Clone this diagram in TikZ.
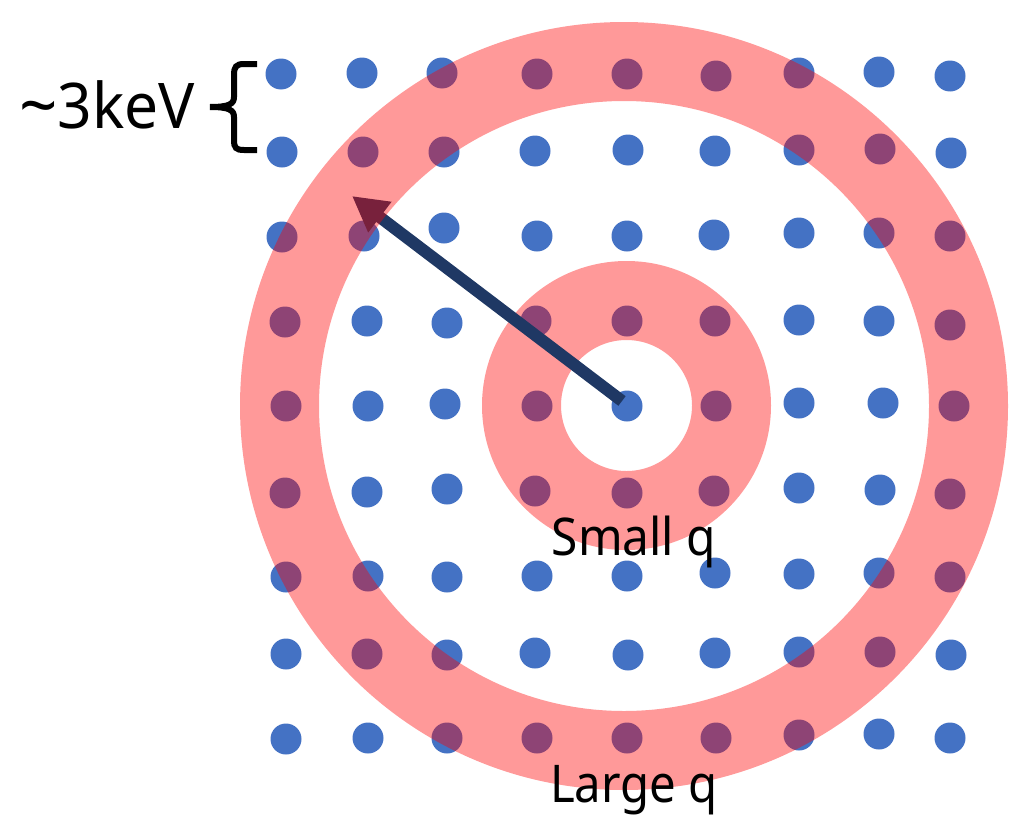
\documentclass[tikz,border=0pt]{standalone}
\usepackage{fontspec}
\setmainfont{Noto Sans}
\usetikzlibrary{arrows.meta}
\definecolor{dotblue}{HTML}{4472C4}
\definecolor{arrownavy}{HTML}{1F3864}
\begin{document}
\begin{tikzpicture}[x=1pt,y=-1pt,
  dot/.style={circle,fill=dotblue,inner sep=0pt,minimum size=31pt},
  ring/.style={fill=red,fill opacity=0.4,even odd rule},
  lbl/.style={inner sep=0pt,anchor=base,text=black}]
\useasboundingbox (0,0) rectangle (1022,819);
% lattice of dots
\foreach \x/\y [count=\c] in {281/74,362/73,442/73,537/74,627/74,716/76,799/73,879/72,950/76}
  \node[dot] (d1\c) at (\x,\y) {};
\foreach \x/\y [count=\c] in {282/152,363/152,444/152,535/151,628/150,715/151,799/150,880/149,951/153}
  \node[dot] (d2\c) at (\x,\y) {};
\foreach \x/\y [count=\c] in {282/237,364/236,444/228,537/236,627/236,714/235,799/233,879/233,950/236}
  \node[dot] (d3\c) at (\x,\y) {};
\foreach \x/\y [count=\c] in {285/322,367/321,447/323,536/321,627/321,715/321,799/320,879/321,950/325}
  \node[dot] (d4\c) at (\x,\y) {};
\foreach \x/\y [count=\c] in {286/406,368/406,445/404,537/406,627/406,716/406,799/403,883/403,954/406}
  \node[dot] (d5\c) at (\x,\y) {};
\foreach \x/\y [count=\c] in {285/493,367/492,447/489,535/491,627/493,714/491,799/488,880/490,950/494}
  \node[dot] (d6\c) at (\x,\y) {};
\foreach \x/\y [count=\c] in {286/577,368/576,447/577,537/576,627/576,715/573,799/574,879/573,950/577}
  \node[dot] (d7\c) at (\x,\y) {};
\foreach \x/\y [count=\c] in {286/654,367/654,447/655,535/653,628/655,715/653,799/652,880/652,951/655}
  \node[dot] (d8\c) at (\x,\y) {};
\foreach \x/\y [count=\c] in {286/739,368/738,447/738,537/738,627/738,716/738,799/735,879/734,950/738}
  \node[dot] (d9\c) at (\x,\y) {};
% small-q ring
\fill[ring] (626.5,405.5) circle[radius=144.5] circle[radius=65.5];
% arrow
\coordinate (tail) at (622,401);
\coordinate (tip) at (352,196);
\draw[arrownavy, line width=12pt, -{Triangle[length=35pt,width=36pt]}] (tail) -- (tip);
% large-q ring
\fill[ring] (624,406) circle[radius=384] circle[radius=305];
% brace
\draw[line width=6pt] (257,64) -- (244,64) .. controls (236,64) and (234,67) .. (234,75) -- (234,97)
  .. controls (234,104) and (229,107) .. (210,107) .. controls (229,107) and (234,110) .. (234,117)
  -- (234,140) .. controls (234,148) and (236,150) .. (244,150) -- (257,150);
% labels
\node[lbl, font=\fontsize{63}{63}\selectfont] (kev) at (107,128) {\scalebox{0.96}[1]{{\fontsize{70}{70}\selectfont\raisebox{-2pt}{\textasciitilde}}3keV}};
\node[lbl, font=\fontsize{52}{52}\selectfont] (small) at (634,555) {\scalebox{0.92}[1]{Small q}};
\node[lbl, font=\fontsize{52}{52}\selectfont] (large) at (634,802) {\scalebox{0.91}[1]{Large q}};
\end{tikzpicture}
\end{document}
